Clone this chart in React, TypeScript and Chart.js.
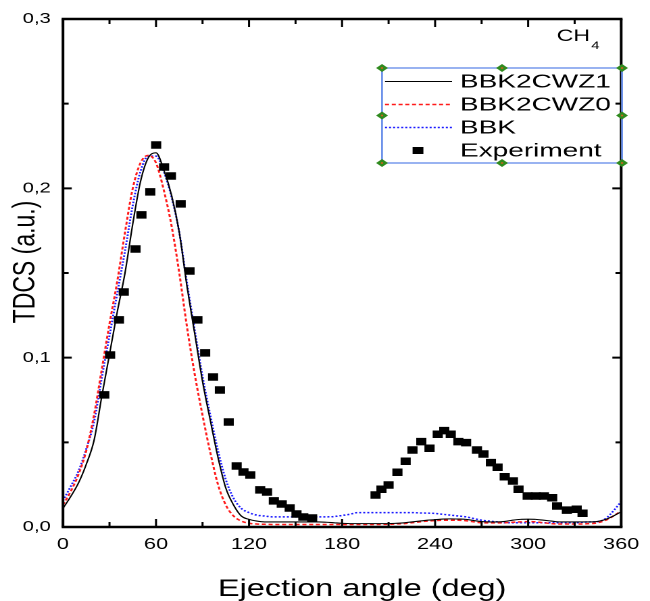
import React, { useEffect, useRef } from "react";
import { Chart, registerables } from "chart.js";

Chart.register(...registerables);

// Drawing buffer is narrower than the page box: the reference figure is stretched horizontally.
const CW = 481;
const CH = 601;
const FONT = '"Liberation Sans", Arial, Helvetica, sans-serif';

const theoryAngles = [
  0, 5, 10, 15, 20, 25, 30, 35, 40, 45,
  50, 55, 60, 65, 70, 75, 80, 85, 90, 95,
  100, 105, 110, 115, 120, 125, 130, 135, 140, 145,
  150, 155, 160, 165, 170, 175, 180, 185, 190, 195,
  200, 205, 210, 215, 220, 225, 230, 235, 240, 245,
  250, 255, 260, 265, 270, 275, 280, 285, 290, 295,
  300, 305, 310, 315, 320, 325, 330, 335, 340, 345,
  350, 355, 360,
];

const bbk2cwz1 = [
  0.011, 0.018, 0.026, 0.037, 0.051, 0.077, 0.102, 0.127, 0.150, 0.179,
  0.204, 0.218, 0.221, 0.211, 0.196, 0.174, 0.142, 0.114, 0.086, 0.063,
  0.041, 0.023, 0.013, 0.0065, 0.0045, 0.0035, 0.003, 0.003, 0.003, 0.003,
  0.003, 0.003, 0.003, 0.003, 0.0028, 0.0025, 0.0022, 0.002, 0.002, 0.002,
  0.002, 0.002, 0.002, 0.0022, 0.0025, 0.003, 0.0035, 0.004, 0.0043, 0.0047,
  0.0048, 0.0047, 0.0045, 0.0038, 0.0032, 0.003, 0.003, 0.0033, 0.004, 0.0045,
  0.0046, 0.0045, 0.004, 0.0035, 0.003, 0.003, 0.003, 0.003, 0.003, 0.0033,
  0.0045, 0.0065, 0.009,
];

const bbk2cwz0 = [
  0.013, 0.021, 0.031, 0.045, 0.066, 0.093, 0.120, 0.145, 0.174, 0.200,
  0.215, 0.2195, 0.215, 0.199, 0.178, 0.150, 0.118, 0.090, 0.066, 0.044,
  0.025, 0.013, 0.0065, 0.0035, 0.0022, 0.0018, 0.0016, 0.0015, 0.0015, 0.0015,
  0.0015, 0.0015, 0.0015, 0.0015, 0.0015, 0.0015, 0.0015, 0.0015, 0.0015, 0.0015,
  0.0015, 0.0015, 0.0016, 0.0018, 0.002, 0.0025, 0.003, 0.0035, 0.0038, 0.004,
  0.004, 0.004, 0.0037, 0.003, 0.0025, 0.0024, 0.0024, 0.0025, 0.0028, 0.003,
  0.0032, 0.003, 0.0025, 0.002, 0.0018, 0.0018, 0.0018, 0.0018, 0.002, 0.0025,
  0.004, 0.0065, 0.0095,
];

const bbk = [
  0.0155, 0.024, 0.033, 0.046, 0.062, 0.088, 0.113, 0.138, 0.163, 0.190,
  0.210, 0.219, 0.219, 0.210, 0.195, 0.174, 0.144, 0.116, 0.089, 0.066,
  0.045, 0.028, 0.017, 0.011, 0.0085, 0.007, 0.0065, 0.006, 0.006, 0.006,
  0.006, 0.006, 0.006, 0.006, 0.006, 0.0062, 0.0068, 0.0075, 0.0085, 0.0085,
  0.0085, 0.0085, 0.0085, 0.0085, 0.0085, 0.0085, 0.0083, 0.0082, 0.008, 0.0075,
  0.007, 0.0065, 0.006, 0.005, 0.004, 0.0035, 0.003, 0.0025, 0.0025, 0.0025,
  0.0025, 0.0025, 0.0025, 0.0025, 0.0025, 0.0025, 0.0025, 0.0028, 0.003, 0.0032,
  0.005, 0.0095, 0.015,
];

const expAngles = [
  26.6, 30.4, 36.1, 39.2, 46.8, 50.6, 56.3, 60.1, 65.2, 69.6,
  75.9, 81.6, 86.7, 91.7, 96.8, 101.2, 106.9, 112, 116.4, 120.8,
  127.2, 131.6, 136, 141.1, 146.2, 150.6, 155, 160.7,
  201.6, 205.4, 210, 215.7, 221, 225.4, 231.1, 236.4, 241.7, 245.9,
  250.1, 255, 260, 267, 271.2, 276, 280.3, 284.9, 290.2, 293.8,
  299.7, 305, 310.2, 315.5, 318.7, 325, 331.3, 335.1,
];

const expValues = [
  0.078, 0.1016, 0.1223, 0.1388, 0.1642, 0.1843, 0.1979, 0.2256, 0.2126, 0.2073,
  0.1908, 0.1512, 0.1223, 0.1028, 0.0886, 0.0809, 0.062, 0.036, 0.0325, 0.0307,
  0.0219, 0.0207, 0.0154, 0.0136, 0.0112, 0.0077, 0.0059, 0.0053,
  0.0189, 0.0223, 0.0248, 0.0323, 0.0388, 0.0455, 0.0504, 0.0465, 0.0548, 0.0569,
  0.0548, 0.0504, 0.0498, 0.0455, 0.0431, 0.038, 0.0353, 0.0297, 0.0272, 0.0223,
  0.0183, 0.0183, 0.0183, 0.0173, 0.0124, 0.01, 0.0105, 0.0081,
];

const xTickMarks = [0, 30, 60, 90, 120, 150, 180, 210, 240, 270, 300, 330, 360];
const yTickMarks = [0, 0.05, 0.1, 0.15, 0.2, 0.25, 0.3];

const seriesLabels = ["BBK2CWZ1", "BBK2CWZ0", "BBK", "Experiment"];
const xTitle = "Ejection angle (deg)";
const yTitle = "TDCS (a.u.)";
const moleculeLabel = "CH";
const moleculeSub = "4";

const framePlugin = {
  id: "frameAndLegend",
  afterDraw(chart: any) {
    const ctx: CanvasRenderingContext2D = chart.ctx;
    const { left, right, top, bottom } = chart.chartArea;
    const xs = chart.scales.x;
    const ys = chart.scales.y;
    ctx.save();
    ctx.strokeStyle = "#000";
    ctx.lineCap = "butt";

    // ticks (inward)
    ctx.lineWidth = 1.5;
    xTickMarks.forEach((v) => {
      const px = xs.getPixelForValue(v);
      const len = v % 60 === 0 ? 8 : 5;
      ctx.beginPath();
      ctx.moveTo(px, bottom);
      ctx.lineTo(px, bottom - len);
      ctx.moveTo(px, top);
      ctx.lineTo(px, top + len);
      ctx.stroke();
    });
    ctx.lineWidth = 2;
    yTickMarks.forEach((v, i) => {
      const py = ys.getPixelForValue(v);
      const len = i % 2 === 0 ? 6.5 : 4.2;
      ctx.beginPath();
      ctx.moveTo(left, py);
      ctx.lineTo(left + len, py);
      ctx.moveTo(right, py);
      ctx.lineTo(right - len, py);
      ctx.stroke();
    });

    // frame
    ctx.lineWidth = 2.6;
    ctx.beginPath();
    ctx.moveTo(left - 1, top);
    ctx.lineTo(right + 1, top);
    ctx.moveTo(left - 1, bottom);
    ctx.lineTo(right + 1, bottom);
    ctx.stroke();
    ctx.lineWidth = 2;
    ctx.beginPath();
    ctx.moveTo(left, top);
    ctx.lineTo(left, bottom);
    ctx.moveTo(right, top);
    ctx.lineTo(right, bottom);
    ctx.stroke();

    // axis titles
    ctx.fillStyle = "#000";
    ctx.textAlign = "center";
    ctx.textBaseline = "alphabetic";
    ctx.font = `24px ${FONT}`;
    ctx.fillText(xTitle, 268, 596);
    ctx.save();
    ctx.translate(25.6, 262);
    ctx.rotate(-Math.PI / 2);
    ctx.font = `23px ${FONT}`;
    ctx.fillText(yTitle, 0, 0);
    ctx.restore();

    // molecule label
    ctx.textAlign = "left";
    ctx.font = `17px ${FONT}`;
    const chX = 412;
    ctx.fillText(moleculeLabel, chX, 41);
    const w = ctx.measureText(moleculeLabel).width;
    ctx.font = `11px ${FONT}`;
    ctx.fillText(moleculeSub, chX + w + 1, 49);

    // legend box
    const x0 = 282.7, x1 = 460.3, y0 = 68, y1 = 163;
    ctx.strokeStyle = "#6d92ea";
    ctx.lineWidth = 1.4;
    ctx.strokeRect(x0, y0, x1 - x0, y1 - y0);

    const rows = [81.5, 104.5, 127.5, 150.5];
    const ds = chart.data.datasets;
    const order = [1, 2, 3, 0];
    order.forEach((di, r) => {
      const d = ds[di];
      const y = rows[r];
      if (d.showLine === false) {
        ctx.fillStyle = "#000";
        ctx.fillRect(309.3 - 4, y - 3.5, 8, 7);
      } else {
        ctx.save();
        ctx.strokeStyle = d.borderColor;
        ctx.lineWidth = d.borderWidth;
        ctx.setLineDash(d.borderDash || []);
        ctx.beginPath();
        ctx.moveTo(284.9, y);
        ctx.lineTo(334.5, y);
        ctx.stroke();
        ctx.restore();
      }
      ctx.save();
      ctx.fillStyle = "#000";
      ctx.font = `18px ${FONT}`;
      ctx.textBaseline = "middle";
      ctx.textAlign = "left";
      ctx.translate(340.4, y + 1);
      ctx.scale(1.15, 1);
      ctx.fillText(d.label, 0, 0);
      ctx.restore();
    });

    // selection handles
    const mx = (x0 + x1) / 2, my = (y0 + y1) / 2;
    const handles = [
      [x0, y0], [mx, y0], [x1, y0],
      [x0, my], [x1, my],
      [x0, y1], [mx, y1], [x1, y1],
    ];
    ctx.fillStyle = "#2f8a1e";
    handles.forEach(([hx, hy]) => {
      ctx.beginPath();
      ctx.moveTo(hx - 4.4, hy);
      ctx.lineTo(hx, hy - 4);
      ctx.lineTo(hx + 4.4, hy);
      ctx.lineTo(hx, hy + 4);
      ctx.closePath();
      ctx.fill();
    });
    ctx.fillStyle = "#c8641e";
    handles.forEach(([hx, hy]) => {
      ctx.fillRect(hx - 0.8, hy - 0.8, 1.6, 1.6);
    });
    ctx.restore();
  },
};

export default function App() {
  const ref = useRef<HTMLCanvasElement | null>(null);

  useEffect(() => {
    if (!ref.current) return;
    const toPts = (xs: number[], ys: number[]) => xs.map((x, i) => ({ x, y: ys[i] }));
    const chart = new Chart(ref.current, {
      type: "scatter",
      data: {
        datasets: [
          {
            label: seriesLabels[3],
            data: toPts(expAngles, expValues),
            showLine: false,
            pointStyle: "rect",
            pointRadius: 4.6,
            pointBorderWidth: 1,
            pointBackgroundColor: "#000",
            pointBorderColor: "#000",
            backgroundColor: "#000",
            borderColor: "#000",
          },
          {
            label: seriesLabels[0],
            data: toPts(theoryAngles, bbk2cwz1),
            showLine: true,
            borderColor: "#000000",
            borderWidth: 1.1,
            pointRadius: 0,
            cubicInterpolationMode: "monotone",
          },
          {
            label: seriesLabels[1],
            data: toPts(theoryAngles, bbk2cwz0),
            showLine: true,
            borderColor: "#ff1a1a",
            borderWidth: 1.5,
            borderDash: [3, 2],
            pointRadius: 0,
            cubicInterpolationMode: "monotone",
          },
          {
            label: seriesLabels[2],
            data: toPts(theoryAngles, bbk),
            showLine: true,
            borderColor: "#1a1aff",
            borderWidth: 1.5,
            borderDash: [1.5, 1.5],
            pointRadius: 0,
            cubicInterpolationMode: "monotone",
          },
        ],
      } as any,
      options: {
        animation: false,
        responsive: false,
        devicePixelRatio: 2,
        layout: { padding: { left: 0, right: 13.3, top: 19, bottom: 0 } },
        plugins: {
          legend: { display: false },
          tooltip: { enabled: false },
        },
        scales: {
          x: {
            type: "linear",
            min: 0,
            max: 360,
            afterFit: (s: any) => {
              s.height = 74;
            },
            grid: { display: false, drawTicks: false },
            border: { display: false },
            ticks: {
              stepSize: 60,
              autoSkip: false,
              maxRotation: 0,
              padding: 8,
              color: "#000",
              font: { family: FONT, size: 16 },
              callback: (v: any) => String(v),
            },
            title: { display: false, text: xTitle },
          },
          y: {
            type: "linear",
            min: 0,
            max: 0.3,
            afterFit: (s: any) => {
              s.width = 46.6;
            },
            grid: { display: false, drawTicks: false },
            border: { display: false },
            ticks: {
              stepSize: 0.1,
              padding: 9,
              color: "#000",
              font: { family: FONT, size: 15 },
              callback: (v: any) => Number(v).toFixed(1).replace(".", ","),
            },
            title: { display: false, text: yTitle },
          },
        },
      } as any,
      plugins: [framePlugin],
    });
    return () => chart.destroy();
  }, []);

  return (
    <div style={{ position: "absolute", left: 0, top: 0, width: 650, height: 601, background: "#fff" }}>
      <canvas
        ref={ref}
        width={CW}
        height={CH}
        style={{ width: "650px", height: "601px", display: "block" }}
      />
    </div>
  );
}
